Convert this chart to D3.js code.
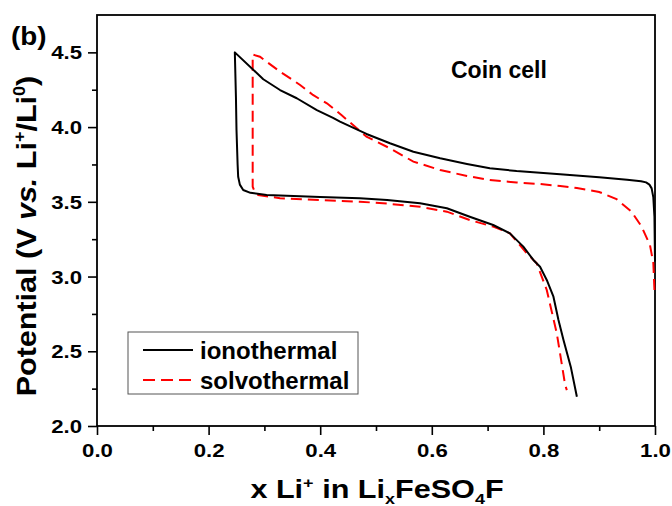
<!DOCTYPE html>
<html>
<head>
<meta charset="utf-8">
<script src="https://cdn.jsdelivr.net/npm/d3@7"></script>
<style>
  html, body { margin: 0; padding: 0; background: #fff; }
  svg { display: block; }
  text { font-family: "Liberation Sans", Arial, sans-serif; font-weight: bold; fill: #000; }
</style>
</head>
<body>
<svg id="chart" width="672" height="506"></svg>
<script>
// Galvanostatic charge/discharge profiles of LixFeSO4F (coin cell)
// Each series is one continuous trace: charge from x = 1 up to the cut-off, then discharge.
const ionoX = [1.000, 0.999, 0.997, 0.994, 0.990, 0.984, 0.975, 0.950, 0.900, 0.830, 0.794, 0.752, 0.704, 0.663,
  0.615, 0.567, 0.525, 0.483, 0.4355, 0.423, 0.394, 0.358, 0.328, 0.298, 0.247,
  0.249, 0.250, 0.252, 0.253, 0.256, 0.262, 0.275, 0.304, 0.400, 0.471, 0.520, 0.579, 0.627, 0.668,
  0.710, 0.740, 0.764, 0.782, 0.794, 0.806, 0.818, 0.827, 0.836, 0.849, 0.860];
const ionoV = [3.10, 3.40, 3.53, 3.59, 3.615, 3.630, 3.638, 3.648, 3.665, 3.684, 3.695, 3.706, 3.724, 3.753,
  3.791, 3.835, 3.892, 3.954, 4.036, 4.061, 4.114, 4.193, 4.248, 4.320, 4.500,
  4.20, 3.98, 3.75, 3.668, 3.615, 3.579, 3.560, 3.546, 3.532, 3.524, 3.512, 3.490, 3.457, 3.400,
  3.345, 3.289, 3.200, 3.111, 3.066, 2.977, 2.865, 2.709, 2.575, 2.397, 2.196];

const solvoX = [0.999, 0.998, 0.997, 0.991, 0.976, 0.958, 0.931, 0.900, 0.860, 0.830, 0.794, 0.752, 0.704, 0.663,
  0.615, 0.567, 0.525, 0.483, 0.438, 0.412, 0.387, 0.364, 0.328, 0.292, 0.279,
  0.279, 0.279, 0.279, 0.283, 0.289, 0.328, 0.400, 0.471, 0.520, 0.579, 0.627, 0.668, 0.710,
  0.740, 0.770, 0.788, 0.806, 0.824, 0.839, 0.842];
const solvoV = [2.91, 3.00, 3.089, 3.211, 3.334, 3.434, 3.518, 3.566, 3.592, 3.606, 3.619, 3.629, 3.646, 3.673,
  3.713, 3.769, 3.858, 3.936, 4.081, 4.159, 4.215, 4.282, 4.371, 4.471, 4.485,
  4.20, 3.80, 3.601, 3.565, 3.546, 3.524, 3.512, 3.501, 3.488, 3.467, 3.434, 3.378, 3.334,
  3.289, 3.156, 3.089, 2.910, 2.620, 2.274, 2.240];

const seriesNames = ["ionothermal", "solvothermal"];
const xMajorTicks = [0.0, 0.2, 0.4, 0.6, 0.8, 1.0];
const xMinorTicks = [0.1, 0.3, 0.5, 0.7, 0.9];
const yMajorTicks = [2.0, 2.5, 3.0, 3.5, 4.0, 4.5];
const yMinorTicks = [2.25, 2.75, 3.25, 3.75, 4.25];

const svg = d3.select("#chart");
const plotLeft = 97, plotRight = 655, plotTop = 15, plotBottom = 426;

const x = d3.scaleLinear().domain([0, 1]).range([plotLeft, plotRight]);
const y = d3.scaleLinear().domain([2.0, 4.75]).range([plotBottom, plotTop]);

const textScale = 1.2;

// minor ticks
svg.append("g").attr("transform", `translate(0,${plotBottom})`)
  .call(d3.axisBottom(x).tickValues(xMinorTicks).tickSize(5).tickFormat(""))
  .call(g => g.select(".domain").remove())
  .call(g => g.selectAll("line").attr("stroke-width", 1.6));
svg.append("g").attr("transform", `translate(${plotLeft},0)`)
  .call(d3.axisLeft(y).tickValues(yMinorTicks).tickSize(5).tickFormat(""))
  .call(g => g.select(".domain").remove())
  .call(g => g.selectAll("line").attr("stroke-width", 1.6));

// major ticks + labels
const xAxis = svg.append("g").attr("transform", `translate(0,${plotBottom})`)
  .call(d3.axisBottom(x).tickValues(xMajorTicks).tickSize(9).tickPadding(0).tickFormat(d3.format(".1f")));
xAxis.select(".domain").remove();
xAxis.selectAll("line").attr("stroke-width", 1.6);
xAxis.selectAll("text")
  .attr("font-size", 18.5).attr("font-family", null).attr("y", 31.5).attr("dy", null)
  .attr("transform", `scale(${textScale},1)`);

const yAxis = svg.append("g").attr("transform", `translate(${plotLeft},0)`)
  .call(d3.axisLeft(y).tickValues(yMajorTicks).tickSize(9).tickFormat(d3.format(".1f")));
yAxis.select(".domain").remove();
yAxis.selectAll("line").attr("stroke-width", 1.6);
yAxis.selectAll("text")
  .attr("font-size", 18.5).attr("font-family", null)
  .attr("x", -15 / textScale).attr("dy", "0.35em")
  .attr("transform", `scale(${textScale},1)`);

// frame
svg.append("rect")
  .attr("x", plotLeft).attr("y", plotTop).attr("width", plotRight - plotLeft).attr("height", plotBottom - plotTop)
  .attr("fill", "none").attr("stroke", "#000").attr("stroke-width", 1.8);

// curves
const line = d3.line().x(d => x(d[0])).y(d => y(d[1]));
const ionoPts = ionoX.map((v, i) => [v, ionoV[i]]);
const solvoPts = solvoX.map((v, i) => [v, solvoV[i]]);

svg.append("path").datum(solvoPts)
  .attr("d", line).attr("fill", "none")
  .attr("stroke", "#ff0000").attr("stroke-width", 2).attr("stroke-dasharray", "11,6");
svg.append("path").datum(ionoPts)
  .attr("d", line).attr("fill", "none")
  .attr("stroke", "#000").attr("stroke-width", 2).attr("stroke-linejoin", "round");

// legend
const lg = svg.append("g");
lg.append("rect").attr("x", 128).attr("y", 332).attr("width", 230).attr("height", 62)
  .attr("fill", "#fff").attr("stroke", "#555").attr("stroke-width", 1);
const legendRows = [
  { name: seriesNames[0], color: "#000", dash: null, y: 350 },
  { name: seriesNames[1], color: "#ff0000", dash: "12,6", y: 380 }
];
legendRows.forEach(r => {
  lg.append("line").attr("x1", 143).attr("x2", 193).attr("y1", r.y).attr("y2", r.y)
    .attr("stroke", r.color).attr("stroke-width", 2).attr("stroke-dasharray", r.dash);
  lg.append("text").attr("x", 200).attr("y", r.y + 8.5).attr("font-size", 24).text(r.name);
});

// panel letter and annotation
svg.append("text").attr("transform", "translate(11,44.5) scale(1.07,1)")
  .attr("font-size", 26).text("(b)");
svg.append("text").attr("x", 451).attr("y", 78).attr("font-size", 23).text("Coin cell");

// x-axis title
const xt = svg.append("text").attr("transform", `translate(377,498) scale(1.2,1)`)
  .attr("text-anchor", "middle").attr("font-size", 25.5);
xt.append("tspan").text("x Li");
xt.append("tspan").attr("font-size", 15).attr("dy", -10).text("+");
xt.append("tspan").attr("dy", 10).text(" in Li");
xt.append("tspan").attr("font-size", 15).attr("dy", 5.5).text("x");
xt.append("tspan").attr("dy", -5.5).text("FeSO");
xt.append("tspan").attr("font-size", 15).attr("dy", 5.5).text("4");
xt.append("tspan").attr("dy", -5.5).text("F");

// y-axis title
const yt = svg.append("text").attr("transform", `translate(36,236) rotate(-90) scale(1.13,1)`)
  .attr("text-anchor", "middle").attr("font-size", 27);
yt.append("tspan").text("Potential (V ");
yt.append("tspan").attr("font-style", "italic").text("vs.");
yt.append("tspan").text(" Li");
yt.append("tspan").attr("font-size", 16).attr("dy", -11).text("+");
yt.append("tspan").attr("dy", 11).text("/Li");
yt.append("tspan").attr("font-size", 16).attr("dy", -11).text("0");
yt.append("tspan").attr("dy", 11).text(")");
</script>
</body>
</html>
